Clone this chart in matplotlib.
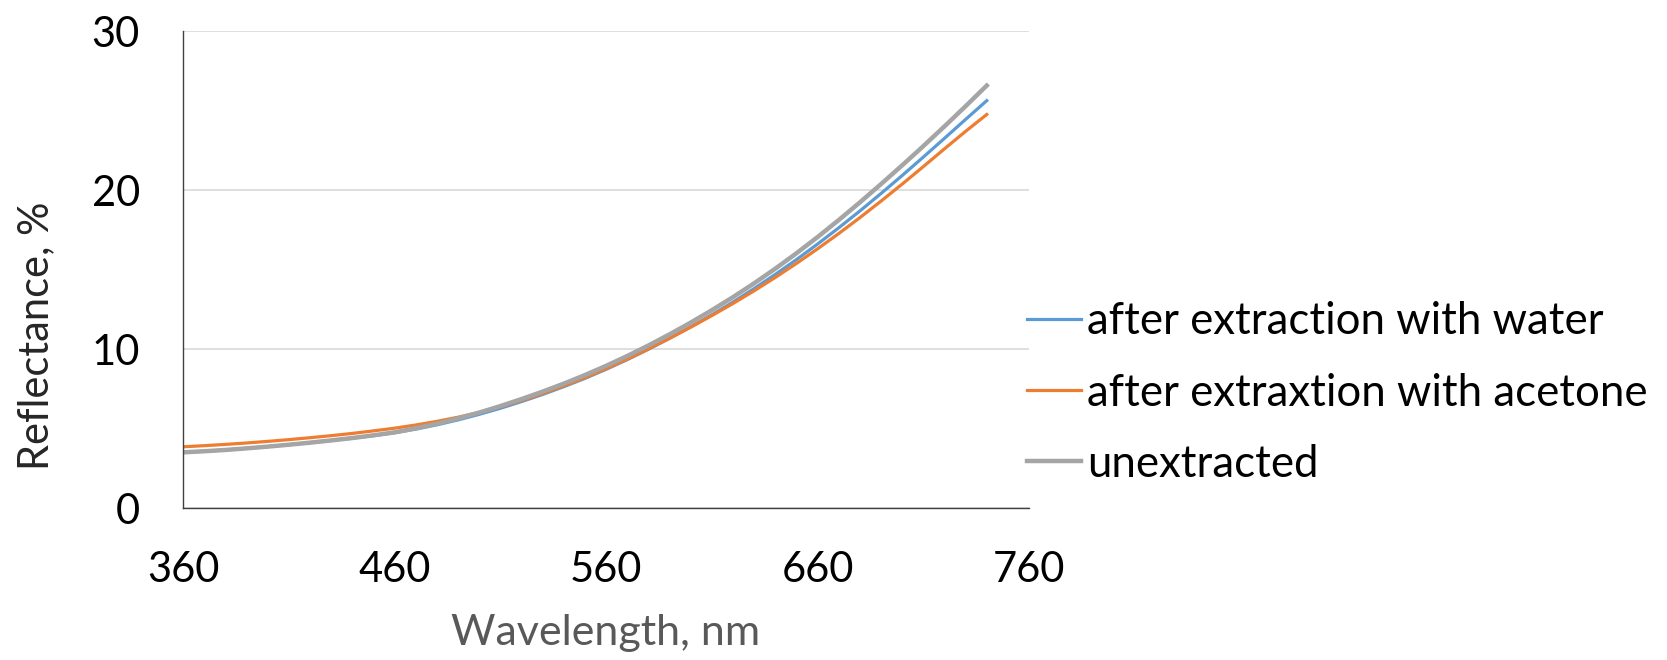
import numpy as np
import matplotlib
matplotlib.use("Agg")
import matplotlib.pyplot as plt

plt.rcParams['font.family'] = ['Lato', 'DejaVu Sans']

# wavelength, nm
wavelength = [360, 370, 380, 390, 400, 410, 420, 430, 440, 450,
              460, 470, 480, 490, 500, 510, 520, 530, 540, 550,
              560, 570, 580, 590, 600, 610, 620, 630, 640, 650,
              660, 670, 680, 690, 700, 710, 720, 730, 740]

# reflectance, %
water = [3.50, 3.57, 3.65, 3.75, 3.86, 3.98, 4.11, 4.25, 4.39, 4.55,
         4.73, 4.96, 5.23, 5.54, 5.89, 6.27, 6.69, 7.14, 7.63, 8.15,
         8.72, 9.33, 9.98, 10.67, 11.39, 12.15, 12.95, 13.80, 14.69, 15.62,
         16.60, 17.62, 18.68, 19.78, 20.91, 22.07, 23.25, 24.44, 25.62]
acetone = [3.85, 3.92, 4.00, 4.09, 4.19, 4.30, 4.42, 4.55, 4.69, 4.85,
           5.02, 5.22, 5.45, 5.71, 6.01, 6.36, 6.76, 7.20, 7.68, 8.20,
           8.76, 9.36, 10.00, 10.67, 11.37, 12.10, 12.86, 13.66, 14.50, 15.38,
           16.30, 17.26, 18.26, 19.30, 20.37, 21.47, 22.59, 23.69, 24.75]
unextracted = [3.50, 3.57, 3.65, 3.75, 3.86, 3.98, 4.11, 4.25, 4.40, 4.57,
               4.76, 5.01, 5.30, 5.63, 6.00, 6.41, 6.85, 7.32, 7.82, 8.36,
               8.94, 9.56, 10.22, 10.92, 11.66, 12.44, 13.26, 14.13, 15.05, 16.02,
               17.04, 18.11, 19.22, 20.37, 21.55, 22.76, 24.00, 25.27, 26.57]

labels = ['after extraction with water', 'after extraxtion with acetone', 'unextracted']
colors = ['#5B9BD5', '#ED7D31', '#A5A5A5']

fig = plt.figure(figsize=(16.67, 6.6), dpi=100)
ax = fig.add_axes([0.1098, 0.2303, 0.5075, 0.7227])

ax.plot(wavelength, water, color=colors[0], lw=2.3, label=labels[0])
ax.plot(wavelength, acetone, color=colors[1], lw=2.3, label=labels[1])
ax.plot(wavelength, unextracted, color=colors[2], lw=3.2, label=labels[2])

ax.set_xlim(360, 760)
ax.set_ylim(0, 30)
ax.set_xticks([360, 460, 560, 660, 760])
ax.set_yticks([0, 10, 20, 30])
ax.yaxis.grid(True, color='#D9D9D9', lw=1.2)
ax.set_axisbelow(True)

for s in ['top', 'right']:
    ax.spines[s].set_visible(False)
ax.spines['left'].set_color('#404040')
ax.spines['bottom'].set_color('#404040')
ax.spines['left'].set_linewidth(1.0)
ax.spines['bottom'].set_linewidth(1.0)

ax.tick_params(axis='x', length=0, pad=31, labelsize=30)
ax.tick_params(axis='y', length=0, pad=31, labelsize=30)

fig.text(0.3633, 0.0227, 'Wavelength, nm', ha='center', va='baseline',
         fontsize=31, color='#595959')
fig.text(0.0216, 0.492, 'Reflectance, %', ha='center', va='center',
         rotation=90, fontsize=30, color='#262626')

ax.legend(loc='center left', bbox_to_anchor=(0.616, 0.4045),
          bbox_transform=fig.transFigure, frameon=False, fontsize=31.5,
          handlelength=1.23, handletextpad=0.14, labelspacing=0.69,
          borderaxespad=0, borderpad=0)

plt.savefig('out.png', dpi=100)
